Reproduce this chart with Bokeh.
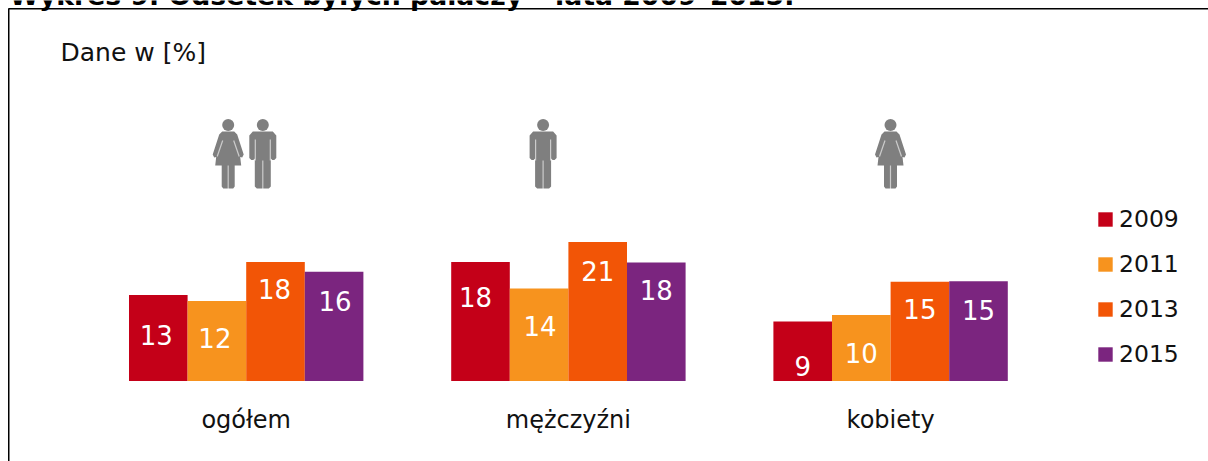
from bokeh.plotting import figure
from bokeh.models import ColumnDataSource, Range1d, Legend, LegendItem, FixedTicker
from bokeh.transform import dodge
from bokeh.core.properties import value
from bokeh.embed import file_html
from bokeh.resources import INLINE

categories = ["ogółem", "mężczyźni", "kobiety"]
years = ["2009", "2011", "2013", "2015"]
v2009 = [13.0, 18.0, 9.0]
v2011 = [12.1, 14.0, 10.0]
v2013 = [18.0, 21.0, 15.0]
v2015 = [16.5, 17.9, 15.1]
l2009 = ["13", "18", "9"]
l2011 = ["12", "14", "10"]
l2013 = ["18", "21", "15"]
l2015 = ["16", "18", "15"]
title_text = "Wykres 9. Odsetek byłych palaczy – lata 2009–2015."
unit_text = "Dane w [%]"

colors = ["#C40018", "#F7931E", "#F25506", "#7B257F"]
# offsets of each value label from its bar's top centre, px (by year, then group)
drops = [[40, 35, 44], [37, 38, 38], [27, 29, 27], [29, 27, 29]]
nudges = [[-2, -5, 0], [-2, 1, 0], [-1, 0, 0], [1, 0, 0]]

W, H = 1208, 461
GROUP_PX, BAR_PX, PX_PER_UNIT, BASE_PX, FIRST_PX = 322.2, 58.6, 6.62, 380.6, 245.7
FONT = "DejaVu Sans"

p = figure(width=W, height=H, output_backend="svg", toolbar_location=None,
           x_range=Range1d(-FIRST_PX / GROUP_PX, (W - FIRST_PX) / GROUP_PX),
           y_range=Range1d(-(H - BASE_PX) / PX_PER_UNIT, BASE_PX / PX_PER_UNIT),
           min_border=0, outline_line_color=None, margin=0,
           background_fill_color="white", border_fill_color="white")
p.grid.visible = False
p.yaxis.visible = False

ax = p.xaxis[0]
ax.fixed_location = 0
ax.ticker = FixedTicker(ticks=[0, 1, 2])
ax.major_label_overrides = {i: c for i, c in enumerate(categories)}
ax.axis_line_color = None
ax.major_tick_line_color = None
ax.minor_tick_line_color = None
ax.major_label_standoff = 19
ax.major_label_text_font = FONT
ax.major_label_text_font_size = "24px"
ax.major_label_text_color = "#111111"

# pixel-space overlay for decoration
p.extra_x_ranges["px"] = Range1d(0, W)
p.extra_y_ranges["px"] = Range1d(H, 0)
px = dict(x_range_name="px", y_range_name="px")

items = []
series = [v2009, v2011, v2013, v2015]
labels = [l2009, l2011, l2013, l2015]
bar_w = BAR_PX / GROUP_PX
for i, yr in enumerate(years):
    off = (i - 1.5) * bar_w
    src = ColumnDataSource(dict(g=[0, 1, 2], v=series[i], t=labels[i], d=drops[i], n=nudges[i]))
    r = p.vbar(x=dodge("g", off), top="v", bottom=0, width=bar_w, color=colors[i], source=src, line_color=None)
    items.append(LegendItem(label=yr, renderers=[r]))
    p.text(x=dodge("g", off), y="v", text="t", x_offset="n", y_offset="d", source=src, text_color="white",
           text_align="center", text_baseline="middle", text_font=value(FONT), text_font_size="26px")

leg = Legend(items=items, location=(1096, 93), orientation="vertical", border_line_color=None,
             background_fill_alpha=0, padding=0, margin=0, glyph_width=18, glyph_height=18,
             label_standoff=5, label_height=25, spacing=17, label_text_font=FONT,
             label_text_font_size="23.5px", label_text_color="#111111")
p.add_layout(leg, "center")

# frame lines
p.line([8, W], [8.25, 8.25], line_color="black", line_width=1.5, **px)
p.line([8.25, 8.25], [8, H], line_color="black", line_width=1.5, **px)

p.text(x=[9], y=[-5], text=[title_text], text_font=value(FONT), text_font_style="bold",
       text_font_size="26.7px", text_color="black", text_baseline="alphabetic", **px)
p.text(x=[60], y=[52], text=[unit_text], text_font=value(FONT), text_font_size="25px",
       text_color="#111111", text_baseline="middle", **px)

# pictograms
GREY = "#7F7F7F"
MAN = ([-10, 10, 13.5, 13.5, 11.5, 9.5, 8, 8, 6, -6, -8, -8, -9.5, -11.5, -13.5, -13.5],
       [131, 131, 135, 157.5, 159.5, 159.5, 158, 186, 188, 188, 186, 158, 159.5, 159.5, 157.5, 135])
MAN_GAPS = [([-7.5, -7.5], [139, 160]), ([7.5, 7.5], [139, 160]), ([0, 0], [160, 189])]
WOMAN = ([-6, 6, 9, 15.5, 14, 12, 13, 6.5, 6.5, 5, -5, -6.5, -6.5, -13, -12, -14, -15.5, -9],
         [131, 131, 134, 154, 157, 156.5, 165, 165, 186, 188, 188, 186, 165, 165, 156.5, 157, 154, 134])
WOMAN_GAPS = [([-5.5, -11], [140, 156]), ([5.5, 11], [140, 156]), ([0, 0], [165, 189])]


def icon(cx, shape, gaps):
    p.patch([cx + a for a in shape[0]], shape[1], color=GREY, line_color=None, **px)
    p.circle(x=[cx], y=[124.5], radius=6, color=GREY, line_color=None, **px)
    for gx, gy in gaps:
        p.line([cx + a for a in gx], gy, line_color="white", line_width=1.2, alpha=0.6, **px)


icon(227.7, WOMAN, WOMAN_GAPS)
icon(262.3, MAN, MAN_GAPS)
icon(542.6, MAN, MAN_GAPS)
icon(890, WOMAN, WOMAN_GAPS)

open("out.html", "w").write(file_html(p, INLINE))
